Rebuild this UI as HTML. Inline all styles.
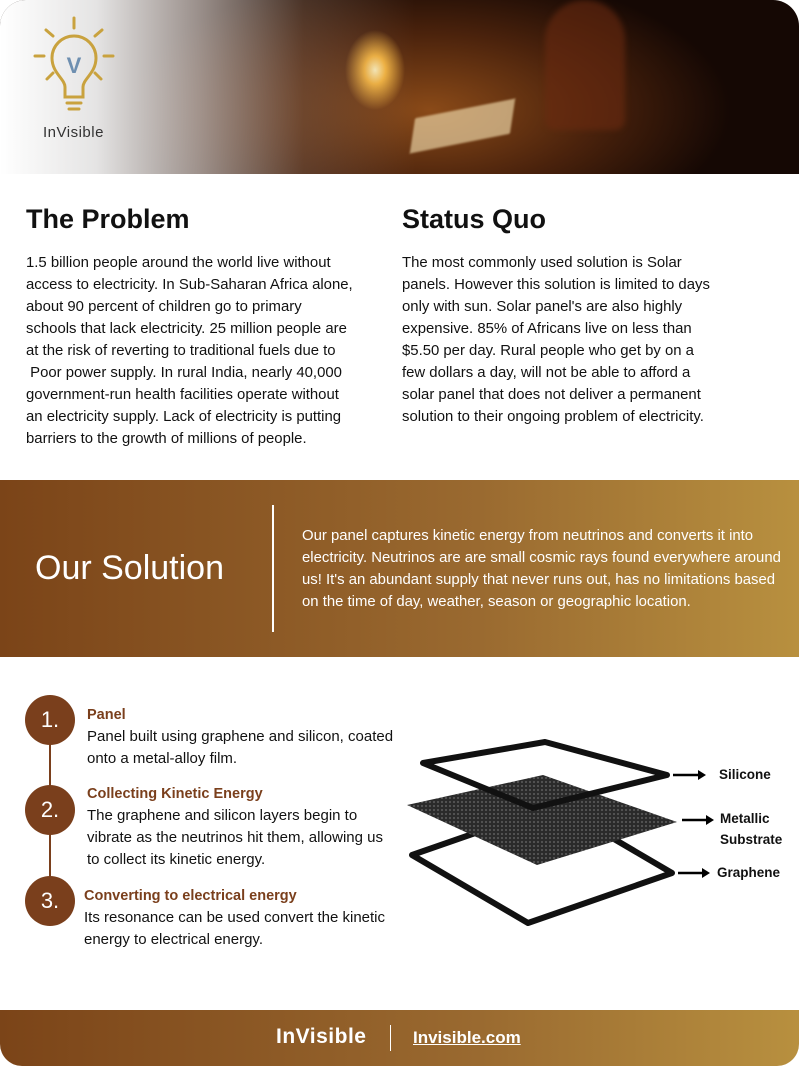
<!DOCTYPE html>
<html><head><meta charset="utf-8"><style>
*{margin:0;padding:0;box-sizing:border-box}
body{width:799px;height:1066px;background:#fff;font-family:"Liberation Sans",sans-serif;position:relative;overflow:hidden;color:#111}
.hdr{position:absolute;left:0;top:0;width:799px;height:174px;border-radius:26px 26px 0 0;overflow:hidden;
background:radial-gradient(ellipse 30px 40px at 375px 70px,#fff3c0 0%,#f6b640 35%,rgba(200,100,20,0) 100%),
radial-gradient(ellipse 300px 140px at 430px 110px,#8a4a18 0%,#4a220c 55%,#150804 100%),#150804}
.hdr .fade{position:absolute;inset:0;background:linear-gradient(90deg,#fff 0%,rgba(240,240,240,.95) 12%,rgba(210,200,195,.7) 25%,rgba(150,120,100,.35) 38%,rgba(0,0,0,0) 52%)}
.hdr .book{position:absolute;left:415px;top:108px;width:95px;height:36px;background:#e8cfa0;transform:skewX(-20deg) rotate(-12deg);opacity:.7;filter:blur(1px)}
.hdr .pers{position:absolute;left:545px;top:0;width:80px;height:130px;background:#6a2a10;border-radius:40px 40px 10px 10px;opacity:.6;filter:blur(3px)}
h2{position:absolute;font-size:27px;font-weight:bold;top:204px}
.p{position:absolute;font-size:14.9px;line-height:22px;top:252px;white-space:nowrap}
.band{position:absolute;left:0;top:480px;width:799px;height:177px;background:linear-gradient(90deg,#7b4418 0%,#9a6a30 60%,#b8903f 100%);color:#fff}
.foot{position:absolute;left:0;top:1010px;width:799px;height:56px;background:linear-gradient(90deg,#7b4418 0%,#9a6a30 60%,#b8903f 100%);border-radius:0 0 22px 22px;color:#fff}
.num{position:absolute;left:25px;width:50px;height:50px;border-radius:50%;background:#7a3f1c;color:#fff;font-size:22px;text-align:center;line-height:50px}
.st{position:absolute;font-size:15px;line-height:22px;white-space:nowrap}
.st b{color:#7a3f1c;font-size:14.5px}
.lab{position:absolute;font-size:13.5px;font-weight:bold;line-height:21px}
</style></head><body>
<div class="hdr"><div class="pers"></div><div class="book"></div><div class="fade"></div>
<svg style="position:absolute;left:30px;top:15px" width="90" height="100" viewBox="0 0 90 100">
<g stroke="#c9a23e" stroke-width="3" fill="none" stroke-linecap="round">
<line x1="44" y1="3" x2="44" y2="13"/><line x1="16" y1="15" x2="23" y2="21"/><line x1="72" y1="15" x2="65" y2="21"/>
<line x1="5" y1="41" x2="14" y2="41"/><line x1="74" y1="41" x2="83" y2="41"/><line x1="17" y1="64" x2="23" y2="58"/><line x1="71" y1="64" x2="65" y2="58"/>
<path d="M35 82 V72 C35 64 22 58 22 43 A22 22 0 0 1 66 43 C66 58 53 64 53 72 V82 Z"/>
<line x1="37" y1="88" x2="51" y2="88"/><line x1="39" y1="94" x2="49" y2="94"/></g>
<text x="44" y="58" text-anchor="middle" font-size="22" font-weight="bold" fill="#6e8fb0" font-family="Liberation Sans">V</text></svg>
<div style="position:absolute;left:43px;top:124px;font-size:15px;color:#333;letter-spacing:.5px">InVisible</div>
</div>
<h2 style="left:26px">The Problem</h2>
<h2 style="left:402px">Status Quo</h2>
<div class="p" style="left:26px">1.5 billion people around the world live without<br>access to electricity. In Sub-Saharan Africa alone,<br>about 90 percent of children go to primary<br>schools that lack electricity. 25 million people are<br>at the risk of reverting to traditional fuels due to<br>&nbsp;Poor power supply. In rural India, nearly 40,000<br>government-run health facilities operate without<br>an electricity supply. Lack of electricity is putting<br>barriers to the growth of millions of people.</div>
<div class="p" style="left:402px">The most commonly used solution is Solar<br>panels. However this solution is limited to days<br>only with sun. Solar panel's are also highly<br>expensive. 85% of Africans live on less than<br>$5.50 per day. Rural people who get by on a<br>few dollars a day, will not be able to afford a<br>solar panel that does not deliver a permanent<br>solution to their ongoing problem of electricity.</div>
<div class="band">
<div style="position:absolute;left:35px;top:69px;font-size:34px">Our Solution</div>
<div style="position:absolute;left:272px;top:25px;width:2px;height:127px;background:#fff"></div>
<div style="position:absolute;left:302px;top:45px;font-size:14.9px;line-height:22px;white-space:nowrap">Our panel captures kinetic energy from neutrinos and converts it into<br>electricity. Neutrinos are are small cosmic rays found everywhere around<br>us! It's an abundant supply that never runs out, has no limitations based<br>on the time of day, weather, season or geographic location.</div>
</div>
<div style="position:absolute;left:49px;top:720px;width:2px;height:170px;background:#7a3f1c"></div>
<div class="num" style="top:695px">1.</div>
<div class="num" style="top:785px">2.</div>
<div class="num" style="top:876px">3.</div>
<div class="st" style="left:87px;top:704px"><b>Panel</b><br>Panel built using graphene and silicon, coated<br>onto a metal-alloy film.</div>
<div class="st" style="left:87px;top:783px"><b>Collecting Kinetic Energy</b><br>The graphene and silicon layers begin to<br>vibrate as the neutrinos hit them, allowing us<br>to collect its kinetic energy.</div>
<div class="st" style="left:84px;top:885px"><b>Converting to electrical energy</b><br>Its resonance can be used convert the kinetic<br>energy to electrical energy.</div>
<svg style="position:absolute;left:0;top:0" width="799" height="1066">
<defs><pattern id="m" width="4" height="4" patternUnits="userSpaceOnUse"><rect width="4" height="4" fill="#2a2a2a"/><circle cx="2" cy="2" r="1.1" fill="#555"/></pattern></defs>
<polygon points="412,855 556,805 672,873 528,923" fill="none" stroke="#111" stroke-width="6" stroke-linejoin="round"/>
<polygon points="407,805 543,775 677,822 537,865" fill="url(#m)"/>
<polygon points="423,763 545,742 667,775 533,808" fill="none" stroke="#111" stroke-width="6" stroke-linejoin="round"/>
<g stroke="#000" stroke-width="2.5"><line x1="673" y1="775" x2="700" y2="775"/><line x1="682" y1="820" x2="708" y2="820"/><line x1="678" y1="873" x2="704" y2="873"/></g>
<g fill="#000"><polygon points="698,770 706,775 698,780"/><polygon points="706,815 714,820 706,825"/><polygon points="702,868 710,873 702,878"/></g>
</svg>
<div class="lab" style="left:719px;top:764px">Silicone</div>
<div class="lab" style="left:720px;top:808px">Metallic<br>Substrate</div>
<div class="lab" style="left:717px;top:862px">Graphene</div>
<div class="foot">
<div style="position:absolute;left:276px;top:15px;font-size:21px;font-weight:bold;letter-spacing:.5px">InVisible</div>
<div style="position:absolute;left:390px;top:15px;width:1px;height:26px;background:#fff"></div>
<div style="position:absolute;left:413px;top:18px;font-size:17px;font-weight:bold;text-decoration:underline">Invisible.com</div>
</div>
</body></html>
